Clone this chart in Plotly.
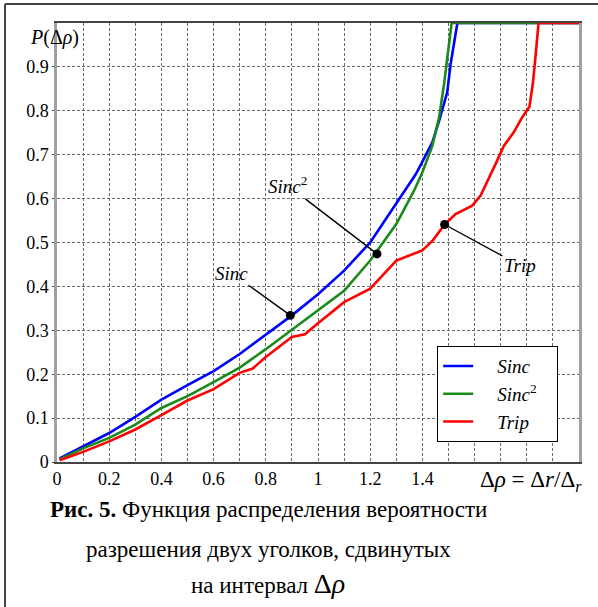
import plotly.graph_objects as go

# ---------------- data ----------------
sinc_x = [0.01, 0.1, 0.2, 0.3, 0.4, 0.5, 0.6, 0.7, 0.8, 0.9, 1.0, 1.1, 1.2, 1.3,
          1.334, 1.375, 1.4, 1.438, 1.464, 1.495, 1.508, 1.534, 2.0]
sinc_y = [0.008, 0.036, 0.066, 0.103, 0.142, 0.175, 0.207, 0.246, 0.289, 0.334, 0.382, 0.436, 0.500, 0.588,
          0.618, 0.656, 0.684, 0.728, 0.777, 0.842, 0.906, 1.0, 1.0]

sinc2_x = [0.01, 0.1, 0.2, 0.3, 0.4, 0.5, 0.6, 0.7, 0.8, 0.9, 1.0, 1.1, 1.2, 1.3,
           1.368, 1.40, 1.438, 1.464, 1.483, 1.495, 1.512, 2.0]
sinc2_y = [0.006, 0.031, 0.055, 0.085, 0.123, 0.150, 0.182, 0.215, 0.257, 0.301, 0.345, 0.390, 0.459, 0.542,
           0.618, 0.660, 0.720, 0.785, 0.861, 0.921, 1.0, 1.0]

trip_x = [0.01, 0.1, 0.2, 0.3, 0.4, 0.5, 0.6, 0.7, 0.75, 0.8, 0.9, 0.95, 1.0, 1.1, 1.2, 1.3, 1.4, 1.44,
          1.485, 1.527, 1.591, 1.623, 1.686, 1.712, 1.75, 1.782, 1.81, 1.823, 1.833, 1.845, 2.0]
trip_y = [0.004, 0.023, 0.047, 0.074, 0.107, 0.140, 0.166, 0.203, 0.213, 0.239, 0.285, 0.291, 0.316, 0.364,
          0.395, 0.459, 0.482, 0.505, 0.541, 0.565, 0.584, 0.607, 0.686, 0.720, 0.751, 0.785, 0.809, 0.861,
          0.921, 1.0, 1.0]

series_names = ["<i>Sinc</i>", "<i>Sinc</i><sup>2</sup>", "<i>Trip</i>"]
series_colors = ["#0000ff", "#1a8a1a", "#ff0000"]

x_tick_vals = [0, 0.2, 0.4, 0.6, 0.8, 1.0, 1.2, 1.4]
x_tick_text = ["0", "0.2", "0.4", "0.6", "0.8", "1", "1.2", "1.4"]
x_grid_vals = [0.1, 0.3, 0.5, 0.7, 0.9, 1.1, 1.3, 1.5, 1.6, 1.7, 1.8, 1.9]
y_tick_vals = [0, 0.1, 0.2, 0.3, 0.4, 0.5, 0.6, 0.7, 0.8, 0.9]
y_tick_text = ["0", "0.1", "0.2", "0.3", "0.4", "0.5", "0.6", "0.7", "0.8", "0.9"]

# callouts: (label, point on curve, label position)
callouts = [
    ("<i>Sinc</i>", 0.894, 0.334, 0.67, 0.43),
    ("<i>Sinc</i><sup>2</sup>", 1.226, 0.474, 0.884, 0.63),
    ("<i>Trip</i>", 1.485, 0.541, 1.773, 0.448),
]

caption_lines = [
    "<b>Рис. 5.</b> Функция распределения вероятности",
    "разрешения двух уголков, сдвинутых",
    "на интервал <span style='font-size:28px'>Δ<i>ρ</i></span>",
]

# ---------------- figure ----------------
SERIF = "Liberation Serif"
W, H = 598, 607
ML, MR, MT, MB = 57, 19, 23, 145
pw, ph = W - ML - MR, H - MT - MB

fig = go.Figure()
NB = "\u00a0" * 4
for xs, ys, name, col in zip([sinc_x, sinc2_x, trip_x], [sinc_y, sinc2_y, trip_y],
                             series_names, series_colors):
    fig.add_trace(go.Scatter(x=xs, y=ys, mode="lines", name=NB + name + "\u00a0" * 3,
                             line=dict(color=col, width=2.6), cliponaxis=False))

for text, px_, py_, tx, ty in callouts:
    fig.add_annotation(x=px_, y=py_, ax=tx, ay=ty, axref="x", ayref="y", xref="x", yref="y",
                       text=text, showarrow=True, arrowhead=6, arrowsize=1.6, arrowwidth=1.4,
                       arrowcolor="black", standoff=0, startstandoff=0,
                       font=dict(family=SERIF, size=19, color="black"))

def px2paper_x(p):
    return (p - ML) / pw

def px2paper_y(p):
    return (H - MB - p) / ph

# axis titles
fig.add_annotation(x=px2paper_x(81), y=px2paper_y(38), xref="paper", yref="paper",
                   xanchor="right", yanchor="middle", showarrow=False,
                   text="<i>P</i>(Δ<i>ρ</i>)", font=dict(family=SERIF, size=20, color="black"))
fig.add_annotation(x=px2paper_x(584), y=px2paper_y(481), xref="paper", yref="paper",
                   xanchor="right", yanchor="middle", showarrow=False,
                   text="Δ<i>ρ</i>\u00a0=\u00a0Δ<i>r</i>/Δ<sub><i>r</i></sub>",
                   font=dict(family=SERIF, size=23, color="black"))

# caption
for line, yc in zip(caption_lines, [509, 549, 583]):
    fig.add_annotation(x=px2paper_x(268), y=px2paper_y(yc), xref="paper", yref="paper",
                       xanchor="center", yanchor="middle", showarrow=False,
                       text=line, font=dict(family=SERIF, size=23, color="black"))

# outer frame (top and left only)
fig.add_shape(type="line", xref="paper", yref="paper",
              x0=px2paper_x(5), x1=px2paper_x(600), y0=px2paper_y(4), y1=px2paper_y(4),
              line=dict(color="#444444", width=2))
fig.add_shape(type="line", xref="paper", yref="paper",
              x0=px2paper_x(5), x1=px2paper_x(5), y0=px2paper_y(4), y1=px2paper_y(610),
              line=dict(color="#444444", width=2))

GRIDC, GRIDD = "#6a6a6a", "3px,2px"
fig.update_xaxes(range=[0, 2], tickvals=x_tick_vals, ticktext=x_tick_text,
                 showgrid=True, gridcolor=GRIDC, gridwidth=1, griddash=GRIDD, zeroline=False,
                 minor=dict(tickvals=x_grid_vals, showgrid=True, gridcolor=GRIDC, gridwidth=1,
                            griddash=GRIDD, ticks=""),
                 showline=True, linecolor="#444444", linewidth=1.5, mirror=True,
                 ticks="", tickfont=dict(family=SERIF, size=18, color="black"))
fig.update_yaxes(range=[0, 1], tickvals=y_tick_vals, ticktext=y_tick_text,
                 showgrid=True, gridcolor=GRIDC, gridwidth=1, griddash=GRIDD, zeroline=False,
                 showline=True, linecolor="#a0a0a0", linewidth=2.5, mirror=True,
                 ticks="outside", ticklen=2, tickcolor="#444444",
                 tickfont=dict(family=SERIF, size=18, color="black"))

fig.update_layout(
    width=W, height=H, margin=dict(l=ML, r=MR, t=MT, b=MB, pad=0),
    paper_bgcolor="white", plot_bgcolor="white",
    font=dict(family=SERIF, color="black"),
    showlegend=True,
    legend=dict(x=px2paper_x(437), y=px2paper_y(346), xanchor="left", yanchor="top",
                bgcolor="white", bordercolor="black", borderwidth=1.2,
                font=dict(family=SERIF, size=19, color="black"),
                tracegroupgap=0, itemwidth=30),
)

fig.write_html("out.html")
